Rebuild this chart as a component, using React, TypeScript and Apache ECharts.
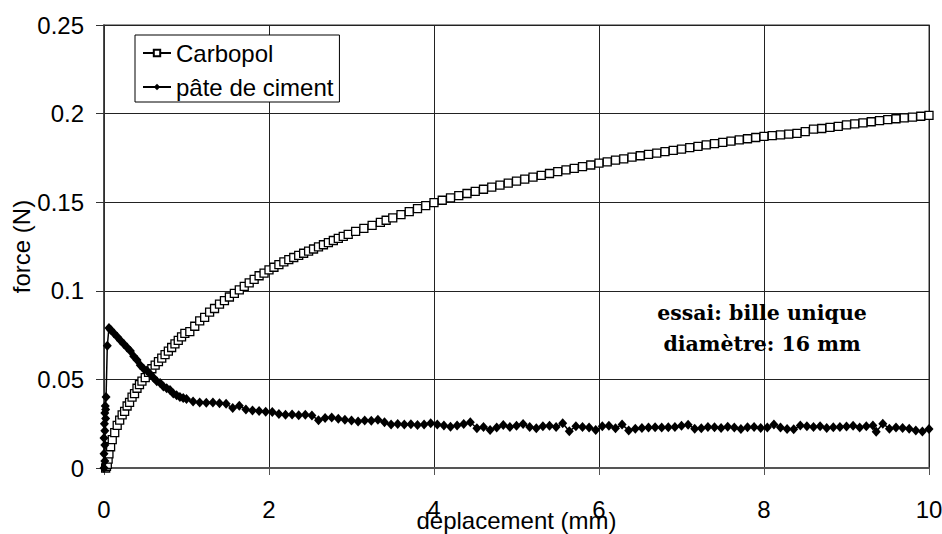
import React, { useEffect, useRef } from "react";
import * as echarts from "echarts";

const xTicks = [0, 2, 4, 6, 8, 10];
const yTicks = [0, 0.05, 0.1, 0.15, 0.2, 0.25];
const seriesNames = ["Carbopol", "pâte de ciment"];
const annotationLines = ["essai: bille unique", "diamètre: 16 mm"];

// Carbopol: [deplacement (mm), force (N)]
const carbopol: number[][] = [
  [0.02, 0.0], [0.03, 0.001], [0.04, 0.002], [0.05, 0.005], [0.06, 0.008], [0.08, 0.012],
  [0.1, 0.016], [0.13, 0.02], [0.16, 0.024], [0.19, 0.027], [0.22, 0.03], [0.25, 0.032],
  [0.28, 0.035], [0.31, 0.037], [0.34, 0.04], [0.37, 0.042], [0.4, 0.045], [0.43, 0.047],
  [0.46, 0.049], [0.5, 0.051], [0.54, 0.054], [0.58, 0.056], [0.62, 0.058], [0.66, 0.06],
  [0.7, 0.062], [0.74, 0.064], [0.78, 0.066], [0.82, 0.068], [0.86, 0.07], [0.9, 0.072],
  [0.94, 0.074], [0.98, 0.076],
  [1.04, 0.077], [1.1, 0.08], [1.16, 0.083], [1.22, 0.085], [1.28, 0.088], [1.34, 0.09],
  [1.4, 0.0925], [1.46, 0.0945], [1.52, 0.0965], [1.58, 0.0985], [1.64, 0.1005], [1.7, 0.1025],
  [1.76, 0.1045], [1.82, 0.1065], [1.88, 0.1085], [1.94, 0.11], [2.0, 0.1118], [2.06, 0.1133],
  [2.12, 0.1148], [2.18, 0.1163], [2.24, 0.1176], [2.3, 0.1188], [2.36, 0.12], [2.42, 0.1212],
  [2.48, 0.1224], [2.54, 0.1236], [2.6, 0.1248], [2.66, 0.126], [2.72, 0.1272], [2.78, 0.1284],
  [2.84, 0.1296], [2.9, 0.1307], [2.96, 0.1318],
  [3.05, 0.1335], [3.15, 0.1352], [3.25, 0.1369], [3.35, 0.1386], [3.42, 0.1398], [3.5, 0.1412],
  [3.6, 0.143], [3.7, 0.1447], [3.8, 0.1464], [3.9, 0.1481], [4.0, 0.1498], [4.1, 0.1511],
  [4.2, 0.1524], [4.3, 0.1537], [4.4, 0.1549], [4.5, 0.1561], [4.6, 0.1573], [4.7, 0.1585],
  [4.8, 0.1596], [4.9, 0.1608], [5.0, 0.1619], [5.1, 0.163], [5.2, 0.1641], [5.3, 0.1651],
  [5.4, 0.1662], [5.5, 0.1672], [5.6, 0.1682], [5.7, 0.1691], [5.8, 0.1701], [5.9, 0.171],
  [6.0, 0.172], [6.1, 0.1728], [6.2, 0.1737], [6.3, 0.1745], [6.4, 0.1754], [6.5, 0.1762],
  [6.6, 0.177], [6.7, 0.1777], [6.8, 0.1785], [6.9, 0.1792], [7.0, 0.18], [7.1, 0.1808],
  [7.2, 0.1815], [7.3, 0.1823], [7.4, 0.183], [7.5, 0.1838], [7.6, 0.1845], [7.7, 0.1852],
  [7.8, 0.1858], [7.9, 0.1865], [8.0, 0.1872], [8.1, 0.1876], [8.2, 0.188], [8.3, 0.1884],
  [8.4, 0.1888], [8.5, 0.1898], [8.6, 0.1912], [8.7, 0.1916], [8.8, 0.1922], [8.9, 0.1928],
  [9.0, 0.1936], [9.1, 0.1942], [9.2, 0.1948], [9.3, 0.1954], [9.4, 0.196], [9.5, 0.1966],
  [9.6, 0.1971], [9.7, 0.1976], [9.8, 0.198], [9.9, 0.1985], [10.0, 0.199],
];

// pâte de ciment: [deplacement (mm), force (N)]
const ciment: number[][] = [
  [0.0, 0.0], [0.01, 0.004], [0.0, 0.008], [0.01, 0.013], [0.0, 0.017], [0.01, 0.021],
  [0.005, 0.025], [0.02, 0.028], [0.01, 0.031], [0.02, 0.033], [0.015, 0.035], [0.025, 0.04],
  [0.04, 0.069], [0.06, 0.079], [0.08, 0.078],
  [0.12, 0.076], [0.16, 0.074], [0.2, 0.072], [0.24, 0.07], [0.28, 0.068], [0.32, 0.066],
  [0.36, 0.063], [0.4, 0.061], [0.44, 0.058], [0.48, 0.056], [0.52, 0.055], [0.56, 0.053],
  [0.6, 0.051], [0.64, 0.049], [0.68, 0.048], [0.72, 0.046], [0.76, 0.045], [0.8, 0.044],
  [0.84, 0.042], [0.88, 0.041], [0.92, 0.04], [0.96, 0.0395], [1.0, 0.039],
  [1.08, 0.0375], [1.16, 0.037], [1.24, 0.0368], [1.32, 0.037], [1.4, 0.0366], [1.48, 0.0362],
  [1.56, 0.0338], [1.64, 0.0352], [1.72, 0.033], [1.8, 0.0325], [1.88, 0.0322], [1.96, 0.0318],
  [2.04, 0.0316], [2.12, 0.0305], [2.2, 0.03], [2.28, 0.0302], [2.36, 0.0298], [2.44, 0.03],
  [2.52, 0.0296], [2.6, 0.027], [2.68, 0.0282], [2.76, 0.0285], [2.84, 0.0278], [2.92, 0.0272],
  [3.0, 0.0268], [3.08, 0.0262], [3.16, 0.0268], [3.24, 0.0266], [3.32, 0.0272], [3.4, 0.0258],
  [3.48, 0.0245], [3.56, 0.0248], [3.64, 0.0245], [3.72, 0.0247], [3.8, 0.0243], [3.88, 0.0246],
  [3.96, 0.0252], [4.04, 0.0245], [4.12, 0.024], [4.2, 0.0233], [4.28, 0.024], [4.36, 0.0248],
  [4.44, 0.0258], [4.52, 0.0224], [4.6, 0.0232], [4.68, 0.0215], [4.76, 0.0228], [4.84, 0.0242],
  [4.92, 0.0232], [5.0, 0.0238], [5.08, 0.0248], [5.16, 0.0232], [5.24, 0.0225], [5.32, 0.0235],
  [5.4, 0.0238], [5.48, 0.0232], [5.56, 0.0252], [5.64, 0.0208], [5.72, 0.0235], [5.8, 0.0232],
  [5.88, 0.0228], [5.96, 0.0215], [6.04, 0.0235], [6.12, 0.0238], [6.2, 0.0225], [6.28, 0.0245],
  [6.36, 0.0212], [6.44, 0.0222], [6.52, 0.0226], [6.6, 0.0228], [6.68, 0.023], [6.76, 0.0228],
  [6.84, 0.023], [6.92, 0.0232], [7.0, 0.0238], [7.08, 0.0244], [7.16, 0.0222], [7.24, 0.0225],
  [7.32, 0.0232], [7.4, 0.023], [7.48, 0.0226], [7.56, 0.0233], [7.64, 0.0228], [7.72, 0.022],
  [7.8, 0.023], [7.88, 0.0232], [7.96, 0.0226], [8.04, 0.0228], [8.12, 0.0246], [8.2, 0.0228],
  [8.28, 0.022], [8.36, 0.0218], [8.44, 0.024], [8.52, 0.0236], [8.6, 0.0232], [8.68, 0.0236],
  [8.76, 0.0226], [8.84, 0.023], [8.92, 0.0232], [9.0, 0.0234], [9.08, 0.0238], [9.16, 0.0228],
  [9.24, 0.0236], [9.32, 0.024], [9.36, 0.0205], [9.44, 0.025], [9.52, 0.0222], [9.6, 0.0228],
  [9.68, 0.0226], [9.76, 0.0222], [9.84, 0.0212], [9.92, 0.0206], [10.0, 0.022],
];

const FONT = '"Liberation Sans", Arial, sans-serif';

export default function App() {
  const ref = useRef<HTMLDivElement>(null);
  useEffect(() => {
    if (!ref.current) return;
    const chart = echarts.init(ref.current, undefined, { renderer: "svg" });
    chart.setOption({
      animation: false,
      backgroundColor: "#fff",
      grid: {
        left: 104,
        right: 13,
        top: 25,
        bottom: 66,
        show: true,
        borderColor: "#777",
        borderWidth: 1.5,
        outerBoundsMode: "none",
        containLabel: false,
      },
      legend: {
        orient: "vertical",
        left: 135,
        top: 35,
        padding: [6, 6, 3, 7],
        itemGap: 10,
        itemWidth: 28,
        itemHeight: 8,
        borderColor: "#000",
        borderWidth: 1,
        backgroundColor: "#fff",
        textStyle: { fontFamily: FONT, fontSize: 24, color: "#000" },
        data: seriesNames,
      },
      xAxis: {
        type: "value",
        min: xTicks[0],
        max: xTicks[xTicks.length - 1],
        interval: 2,
        name: "deplacement (mm)",
        nameLocation: "middle",
        nameGap: 40,
        nameMoveOverlap: false,
        nameTextStyle: { fontFamily: FONT, fontSize: 24, color: "#000" },
        axisLine: { show: true, lineStyle: { color: "#555", width: 2 } },
        axisTick: { show: true, inside: false, length: 7, lineStyle: { color: "#555", width: 1 } },
        axisLabel: { fontFamily: FONT, fontSize: 24, color: "#000", margin: 29 },
        splitLine: { show: true, lineStyle: { color: "#222", width: 1 } },
      },
      yAxis: {
        type: "value",
        min: yTicks[0],
        max: yTicks[yTicks.length - 1],
        interval: 0.05,
        name: "force (N)",
        nameLocation: "middle",
        nameGap: 71,
        nameMoveOverlap: false,
        nameTextStyle: { fontFamily: FONT, fontSize: 24, color: "#000" },
        axisLine: { show: true, lineStyle: { color: "#333", width: 1.5 } },
        axisTick: { show: true, inside: false, length: 8, lineStyle: { color: "#333", width: 1 } },
        axisLabel: { fontFamily: FONT, fontSize: 24, color: "#000", margin: 20 },
        splitLine: { show: true, lineStyle: { color: "#222", width: 1 } },
      },
      series: [
        {
          name: seriesNames[0],
          type: "line",
          data: carbopol,
          symbol: "rect",
          symbolSize: 8,
          showAllSymbol: true,
          lineStyle: { color: "#000", width: 1 },
          itemStyle: { color: "#fff", borderColor: "#000", borderWidth: 1.3 },
          z: 2,
        },
        {
          name: seriesNames[1],
          type: "line",
          data: ciment,
          symbol: "diamond",
          symbolSize: [9, 10],
          showAllSymbol: true,
          lineStyle: { color: "#000", width: 1.5 },
          itemStyle: { color: "#000" },
          z: 3,
        },
      ],
      graphic: [
        {
          type: "text",
          x: 762,
          y: 313,
          style: {
            text: annotationLines[0],
            font: 'bold 20.5px "DejaVu Serif", serif',
            fill: "#000",
            textAlign: "center",
            textVerticalAlign: "middle",
          },
          z: 10,
        },
        {
          type: "text",
          x: 762,
          y: 344,
          style: {
            text: annotationLines[1],
            font: 'bold 20.5px "DejaVu Serif", serif',
            fill: "#000",
            textAlign: "center",
            textVerticalAlign: "middle",
          },
          z: 10,
        },
      ],
    });
    return () => chart.dispose();
  }, []);
  return (
    <div
      ref={ref}
      style={{ position: "absolute", left: 0, top: 0, width: 942, height: 534, background: "#fff" }}
    />
  );
}
